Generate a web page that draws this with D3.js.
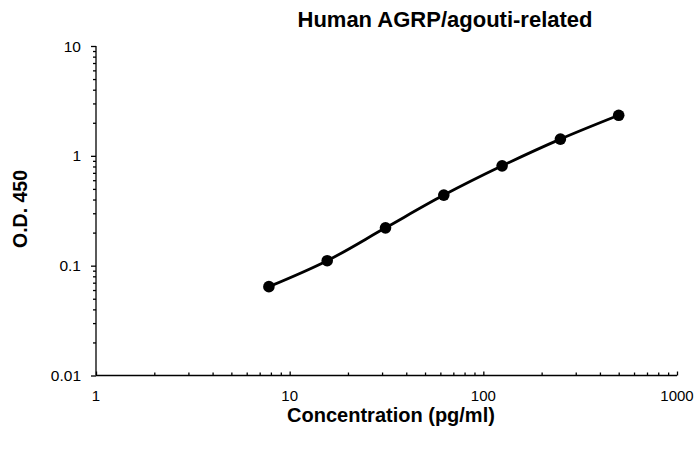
<!DOCTYPE html>
<html><head><meta charset="utf-8">
<script src="https://cdn.jsdelivr.net/npm/d3@7"></script>
<style>body{margin:0;background:#fff}svg{display:block}text{font-family:"Liberation Sans",Arial,sans-serif}</style>
</head><body><svg id="c" width="696" height="449"></svg>
<script>
const concentrations = [7.8125, 15.625, 31.25, 62.5, 125, 250, 500];
const odValues = [0.0644, 0.111, 0.221, 0.439, 0.811, 1.42, 2.34];
const xTickLabels = [1, 10, 100, 1000];
const yTickLabels = [0.01, 0.1, 1, 10];
const title = "Human AGRP/agouti-related";
const xTitle = "Concentration (pg/ml)";
const yTitle = "O.D. 450";

const svg = d3.select("#c");
const L = 96, R = 677, T = 46, B = 375.5;
const x = d3.scaleLog().domain([1, 1000]).range([L, R]);
const y = d3.scaleLog().domain([0.01, 10]).range([B, T]);

const minorX = [], minorY = [];
for (let d = 1; d < 1000; d *= 10) for (let k = 2; k <= 9; k++) minorX.push(d * k);
for (let d = 0.01; d < 10; d *= 10) for (let k = 2; k <= 9; k++) minorY.push(d * k);

// x axis
const gx = svg.append("g").attr("transform", `translate(0,${B})`);
gx.call(d3.axisTop(x).tickValues(minorX).tickSize(3).tickFormat(""));
gx.call(g => g.select(".domain").remove());
const gx2 = svg.append("g").attr("transform", `translate(0,${B})`);
gx2.call(d3.axisTop(x).tickValues(xTickLabels).tickSize(4).tickFormat(""));
gx2.select(".domain").attr("d", `M${L},0H${R}`);
svg.append("g").selectAll("text").data(xTickLabels).join("text")
  .attr("x", d => x(d)).attr("y", 400.5).attr("text-anchor", "middle")
  .attr("font-size", 15).attr("fill", "#000").text(d => d);

// y axis
const gy = svg.append("g").attr("transform", `translate(${L},0)`);
gy.call(d3.axisLeft(y).tickValues(minorY).tickSize(3).tickFormat(""));
gy.call(g => g.select(".domain").remove());
const gy2 = svg.append("g").attr("transform", `translate(${L},0)`);
gy2.call(d3.axisLeft(y).tickValues(yTickLabels).tickSize(5).tickFormat(""));
gy2.select(".domain").attr("d", `M0,${B}V${T}`);
svg.append("g").selectAll("text").data(yTickLabels).join("text")
  .attr("x", 81).attr("y", d => y(d)).attr("dy", "0.36em").attr("text-anchor", "end")
  .attr("font-size", 15.5).attr("fill", "#000").text(d => d);

svg.selectAll(".tick line, .domain").attr("stroke", "#000").attr("stroke-width", 1.3);

// titles
svg.append("text").attr("x", 445).attr("y", 27).attr("text-anchor", "middle")
  .attr("font-size", 22).attr("font-weight", "bold").text(title);
svg.append("text").attr("x", 391).attr("y", 422).attr("text-anchor", "middle")
  .attr("font-size", 20).attr("font-weight", "bold").text(xTitle);
svg.append("text").attr("transform", `translate(27,209) rotate(-90)`)
  .attr("text-anchor", "middle").attr("font-size", 19.5).attr("font-weight", "bold").text(yTitle);

// line
const data = concentrations.map((c, i) => [c, odValues[i]]);
const line = d3.line().x(d => x(d[0])).y(d => y(d[1])).curve(d3.curveCatmullRom);
svg.append("path").datum(data).attr("d", line).attr("fill", "none")
  .attr("stroke", "#000").attr("stroke-width", 2.8);
svg.append("g").selectAll("circle").data(data).join("circle")
  .attr("cx", d => x(d[0])).attr("cy", d => y(d[1])).attr("r", 5.8).attr("fill", "#000");
</script></body></html>
